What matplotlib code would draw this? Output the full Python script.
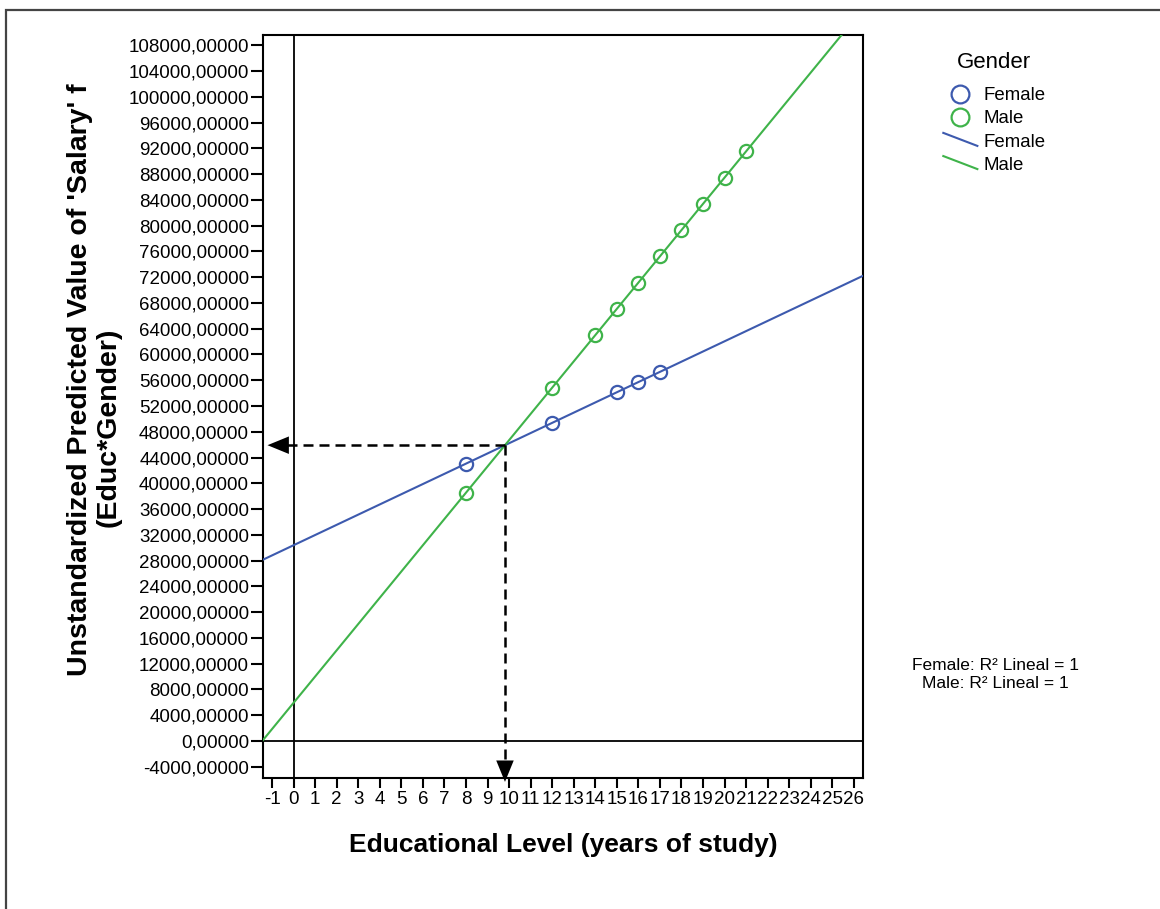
import matplotlib
matplotlib.use("Agg")
import matplotlib.pyplot as plt
import numpy as np
from matplotlib.legend_handler import HandlerLine2D
from matplotlib.lines import Line2D
from matplotlib.patches import Rectangle

plt.rcParams['font.family'] = ['Liberation Sans', 'DejaVu Sans']

# predicted salary by years of education, per gender
female_educ = [8, 12, 15, 16, 17]
female_pred = [43054, 49386, 54135, 55718, 57301]
male_educ = [8, 12, 14, 15, 16, 17, 18, 19, 20, 21]
male_pred = [38540, 54848, 63002, 67079, 71156, 75233, 79310, 83387, 87464, 91541]

x_ticks = list(range(-1, 27))
y_ticks = list(range(-4000, 108001, 4000))

blue = '#3d5aae'
green = '#3fb34a'


class SlantedLine(HandlerLine2D):
    # legend glyph drawn as a short descending stroke
    def create_artists(self, legend, orig_handle, xdescent, ydescent,
                       width, height, fontsize, trans):
        line = Line2D([-xdescent, width - xdescent],
                      [height * 1.05 - ydescent, -ydescent + height * 0.05])
        self.update_prop(line, orig_handle, legend)
        line.set_transform(trans)
        return [line]


fig = plt.figure(figsize=(11.6, 9.09), dpi=100)
ax = fig.add_axes([0.2267, 0.1441, 0.5172, 0.8174])

xlim = (-1.42, 26.42)
ylim = (-5750, 109600)

# linear fits through each group's points
fb = np.polyfit(female_educ, female_pred, 1)
mb = np.polyfit(male_educ, male_pred, 1)
xx = np.array(xlim)
fl, = ax.plot(xx, np.polyval(fb, xx), color=blue, lw=1.5, zorder=3)
ml, = ax.plot(xx, np.polyval(mb, xx), color=green, lw=1.5, zorder=3)

fp, = ax.plot(female_educ, female_pred, 'o', ms=9.5, mfc='none', mec=blue,
              mew=1.6, zorder=4)
mp, = ax.plot(male_educ, male_pred, 'o', ms=9.5, mfc='none', mec=green,
              mew=1.6, zorder=4)

ax.axvline(0, color='black', lw=1.3, zorder=2)
ax.axhline(0, color='black', lw=1.3, zorder=2)

# intersection of the two fitted lines
xc = (fb[1] - mb[1]) / (mb[0] - fb[0])
yc = np.polyval(fb, xc)
dash = (0, (4, 2.4))
ax.plot([xc, -0.45], [yc, yc], color='black', lw=1.8, linestyle=dash, zorder=5)
ax.plot([xc, xc], [yc, -3400], color='black', lw=1.8, linestyle=dash, zorder=5,
        clip_on=False)
head = dict(arrowstyle='-|>,head_length=1.1,head_width=0.45', color='black',
            lw=0, shrinkA=0, shrinkB=0, mutation_scale=14)
ax.annotate('', xy=(-1.21, yc), xytext=(-0.45, yc), arrowprops=head,
            annotation_clip=False)
ax.annotate('', xy=(xc, -6350), xytext=(xc, -3400), arrowprops=head,
            annotation_clip=False)

ax.set_xlim(*xlim)
ax.set_ylim(*ylim)
ax.set_xticks(x_ticks)
ax.set_xticklabels([str(v) for v in x_ticks])
ax.set_yticks(y_ticks)
ax.set_yticklabels([f"{v},00000" for v in y_ticks])
ax.tick_params(axis='y', direction='out', length=9, width=1.5, labelsize=13.5,
               pad=1)
ax.tick_params(axis='x', direction='out', length=7.5, width=1.5, labelsize=13.5,
               pad=2)
for s in ax.spines.values():
    s.set_linewidth(1.5)

ax.set_xlabel('Educational Level (years of study)', fontsize=19,
              fontweight='bold', labelpad=18)
ax.set_ylabel("Unstandardized Predicted Value of 'Salary' f", fontsize=20.5,
              fontweight='bold', va='center')
ax.yaxis.set_label_coords(-0.305, 0.536)
ax.text(-0.258, 0.472, '(Educ*Gender)', transform=ax.transAxes, rotation=90,
        ha='center', va='center', fontsize=20.5, fontweight='bold')

leg = fig.legend([fp, mp, fl, ml], ['Female', 'Male', 'Female', 'Male'],
                 title='Gender', loc='upper left',
                 bbox_to_anchor=(934 / 1160, 1 - 43 / 909), frameon=False,
                 fontsize=13.4, title_fontsize=16, handlelength=1.83,
                 handletextpad=0.32, labelspacing=0.33, borderpad=0,
                 markerscale=1.35,
                 handler_map={fl: SlantedLine(), ml: SlantedLine()})
leg._legend_box.align = 'center'
leg._legend_box.sep = 10

fig.text(995 / 1160, 1 - 665 / 909, 'Female: R² Lineal = 1', ha='center',
         va='center', fontsize=12.5)
fig.text(995 / 1160, 1 - 684 / 909, 'Male: R² Lineal = 1', ha='center',
         va='center', fontsize=12.5)

# outer frame of the chart area
fig.patches.append(Rectangle((6 / 1160, -0.05), 1.2, 1.05 - 10 / 909,
                             transform=fig.transFigure, fill=False,
                             edgecolor='#444444', lw=1.6))

fig.savefig('out.png', dpi=100)
